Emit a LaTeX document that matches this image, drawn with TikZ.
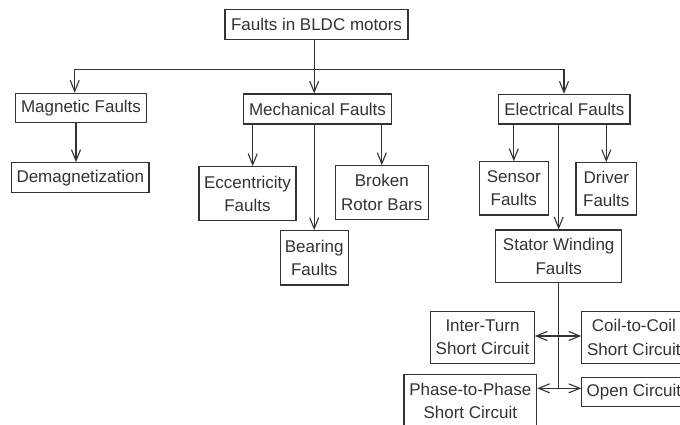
\documentclass[tikz,border=0pt]{standalone}
\usepackage{fontspec}
\setmainfont{Liberation Sans}
\usetikzlibrary{arrows.meta}
\definecolor{ink}{HTML}{333333}
\tikzset{
  box/.style={draw=ink, text=ink, line width=1.1pt, inner sep=0pt, align=center,
    font=\fontsize{17}{23.5}\selectfont},
  link/.style={draw=ink, line width=1.1pt},
  tip/.tip={Straight Barb[length=11pt,width=9pt,line width=1.1pt]},
  arr/.style={link, -tip},
  arrs/.style={link, tip-tip}
}
\begin{document}
\begin{tikzpicture}[x=1pt,y=-1pt]
\useasboundingbox (0,0) rectangle (680,425);
\clip (0,0) rectangle (680,425);
\fill[white] (0,0) rectangle (680,425);

% fault classes
\node[box, minimum width=183pt, minimum height=30pt] (top) at (316.5,24.3) {Faults in BLDC motors};
\node[box, minimum width=131.4pt, minimum height=29.4pt] (mag) at (81,108) {Magnetic Faults};
\node[box, minimum width=148.4pt, minimum height=30pt] (mech) at (317.5,109) {Mechanical Faults};
\node[box, minimum width=131.3pt, minimum height=29.7pt] (elec) at (564.3,109.2) {Electrical Faults};

% magnetic
\node[box, minimum width=137.3pt, minimum height=30pt] (demag) at (80.3,177.7) {Demagnetization};

% mechanical
\node[box, minimum width=97pt, minimum height=54pt] (ecc) at (247.5,193.7) {Eccentricity\\Faults};
\node[box, minimum width=93pt, minimum height=53.6pt] (broken) at (381.8,192.5) {Broken\\Rotor Bars};
\node[box, minimum width=68.3pt, minimum height=54.3pt] (bear) at (314.2,257.8) {Bearing\\Faults};

% electrical
\node[box, minimum width=69pt, minimum height=53.3pt] (sensor) at (513.8,188.3) {Sensor\\Faults};
\node[box, minimum width=60.7pt, minimum height=52.3pt] (driver) at (606.3,188.8) {Driver\\Faults};
\node[box, minimum width=126pt, minimum height=52.7pt] (stator) at (558.7,256.3) {Stator Winding\\Faults};

% stator winding faults
\node[box, minimum width=103.6pt, minimum height=52.3pt] (inter) at (482.5,337.2) {Inter-Turn\\Short Circuit};
\node[box, minimum width=104.3pt, minimum height=52.3pt] (coil) at (633.9,337.2) {Coil-to-Coil\\Short Circuit};
\node[box, minimum width=132.7pt, minimum height=52.7pt] (pp) at (470.3,400.7) {Phase-to-Phase\\Short Circuit};
\node[box, minimum width=104.3pt, minimum height=29.4pt] (open) at (633.9,392) {Open Circuit};

% top-level bus
\coordinate (busL) at (74.7,69.3);
\coordinate (busR) at (564,69.3);
\draw[link] (busL) -- (busR);
\draw[arr] (top.south -| bear.north) -- (mech.north -| bear.north);
\draw[arr] (busL) -- (busL |- mag.north);
\draw[arr] (busR) -- (busR |- elec.north);

% branches
\draw[arr] ([xshift=-5pt]mag.south) -- ([xshift=-5pt]mag.south |- demag.north);
\draw[arr] (mech.south -| 252.7,0) -- (ecc.north -| 252.7,0);
\draw[arr] (mech.south -| bear.north) -- (bear.north);
\draw[arr] (mech.south -| broken.north) -- (broken.north);
\draw[arr] (elec.south -| sensor.north) -- (sensor.north);
\draw[arr] (elec.south -| stator.north) -- (stator.north);
\draw[arr] (elec.south -| driver.north) -- (driver.north);

% stator winding split
\coordinate (jn) at (558.3,388.3);
\draw[link] (stator.south -| jn) -- (jn);
\draw[arrs] (inter.east |- 0,336) -- (coil.west |- 0,336);
\draw[arr] (jn) -- (jn -| pp.east);
\draw[arr] (jn) -- (jn -| open.west);
\end{tikzpicture}
\end{document}
